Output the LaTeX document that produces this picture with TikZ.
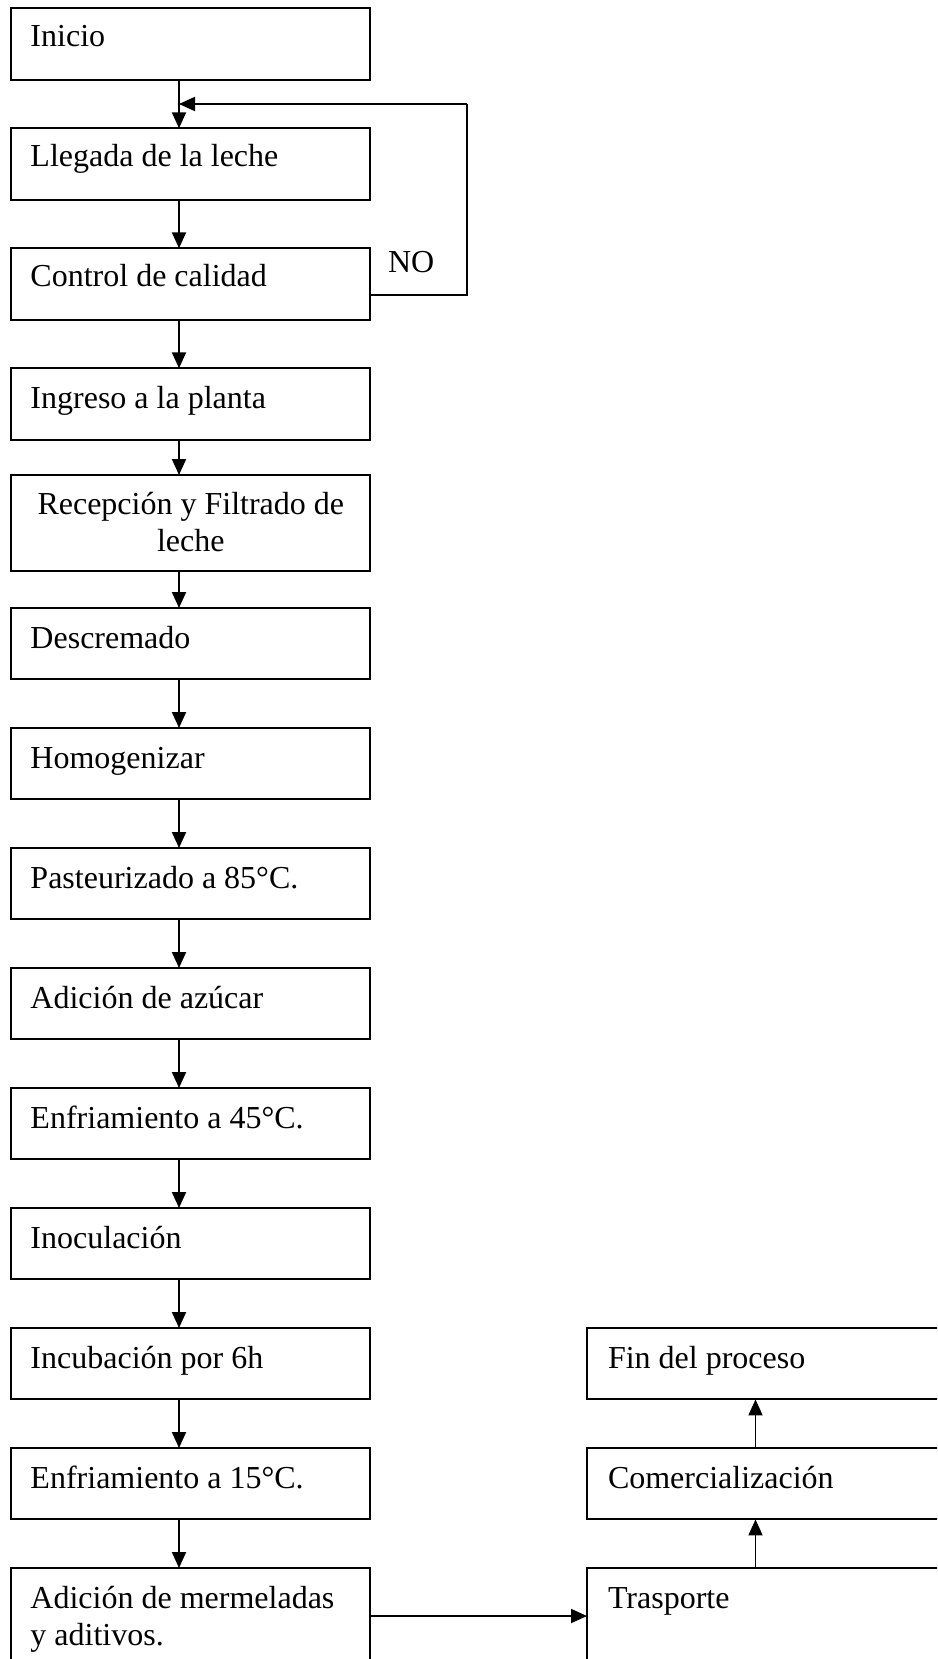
\documentclass[tikz,border=0pt]{standalone}
\usepackage{fontspec}
\setmainfont{Liberation Serif}
\usetikzlibrary{arrows.meta}
\begin{document}
\begin{tikzpicture}[x=1pt,y=-1pt,
  box/.style={draw, line width=2pt, rectangle, anchor=north west, minimum width=359pt, minimum height=71.4pt, inner sep=0pt, outer sep=0pt},
  txt/.style={anchor=base west, inner sep=0pt, outer sep=0pt, font=\fontsize{32}{36.7}\selectfont},
  ctxt/.style={txt, anchor=base},
  arr/.style={line width=1.9pt, -{Triangle[length=16pt,width=14pt]}}]
\useasboundingbox (0,0) rectangle (937,1659);
\clip (0,0) rectangle (937,1659);
\fill[white] (0,0) rectangle (937,1659);
% left column boxes
\node[box] (inicio) at (11.3,8.3) {};
\node[box] (llegada) at (11.3,128.3) {};
\node[box] (control) at (11.3,248.3) {};
\node[box] (ingreso) at (11.3,368.3) {};
\node[box, minimum height=95.7pt] (recep) at (11.3,475) {};
\node[box] (descrem) at (11.3,608) {};
\node[box] (homog) at (11.3,728) {};
\node[box] (paste) at (11.3,848) {};
\node[box] (azucar) at (11.3,968) {};
\node[box] (enf45) at (11.3,1088) {};
\node[box] (inoc) at (11.3,1208) {};
\node[box] (incub) at (11.3,1328) {};
\node[box] (enf15) at (11.3,1448) {};
\node[box, minimum height=120pt] (merm) at (11.3,1568) {};
% right column boxes
\node[box, minimum width=380pt] (fin) at (587,1328) {};
\node[box, minimum width=380pt] (comer) at (587,1448) {};
\node[box, minimum width=380pt, minimum height=120pt] (trans) at (587,1568) {};
% texts
\node[txt] (t1) at (30.5,46.7) {Inicio};
\node[txt] (t2) at (30.5,166.7) {Llegada de la leche};
\node[txt] (t3) at (30.5,286.7) {Control de calidad};
\node[txt] (t4) at (30.5,408) {Ingreso a la planta};
\node[ctxt] (t5a) at (190.8,514.3) {Recepción y Filtrado de};
\node[ctxt] (t5b) at (190.8,551) {leche};
\node[txt] (t6) at (30.5,648) {Descremado};
\node[txt] (t7) at (30.5,768) {Homogenizar};
\node[txt] (t8) at (30.5,888) {Pasteurizado a 85°C.};
\node[txt] (t9) at (30.5,1008) {Adición de azúcar};
\node[txt] (t10) at (30.5,1128) {Enfriamiento a 45°C.};
\node[txt] (t11) at (30.5,1248) {Inoculación};
\node[txt] (t12) at (30.5,1368) {Incubación por 6h};
\node[txt] (t13) at (30.5,1488) {Enfriamiento a 15°C.};
\node[txt] (t14a) at (30.5,1608.3) {Adición de mermeladas};
\node[txt] (t14b) at (30.5,1645) {y aditivos.};
\node[txt] (t15) at (608,1368) {Fin del proceso};
\node[txt] (t16) at (608,1488) {Comercialización};
\node[txt] (t17) at (608,1608) {Trasporte};
\node[txt] (no) at (388,272) {NO};
% connectors
\coordinate (ax) at (179,0);
\coordinate (rx) at (755.5,0);
\coordinate (ly) at (0,295);
\coordinate (lr) at (466.7,104);
\coordinate (hy) at (0,1616);
\foreach \a/\b in {inicio/llegada, llegada/control, control/ingreso, ingreso/recep, recep/descrem, descrem/homog, homog/paste, paste/azucar, azucar/enf45, enf45/inoc, inoc/incub, incub/enf15, enf15/merm}
  \draw[arr] (\a.south -| ax) -- (\b.north -| ax);
\draw[line width=1.9pt] (control.east |- ly) -| (lr);
\draw[arr] (lr) -- (lr -| ax);
\draw[arr] (merm.east |- hy) -- (trans.west |- hy);
\draw[arr] (trans.north -| rx) -- (comer.south -| rx);
\draw[arr] (comer.north -| rx) -- (fin.south -| rx);
\end{tikzpicture}
\end{document}
